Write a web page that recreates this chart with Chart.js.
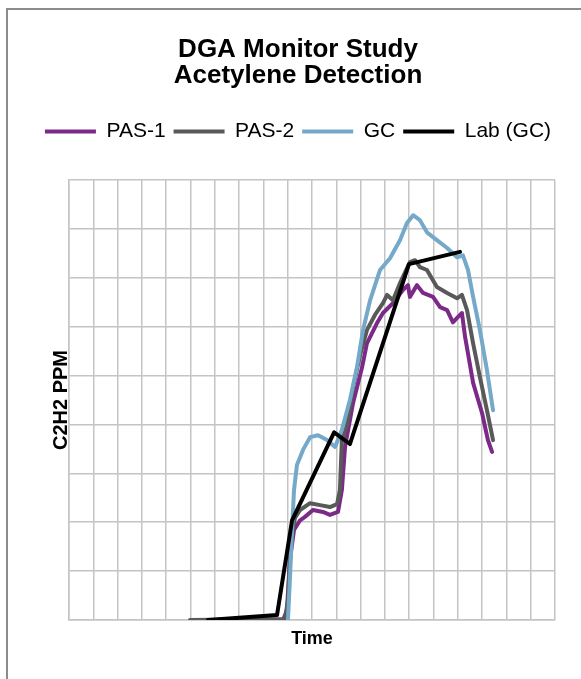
<!DOCTYPE html>
<html>
<head>
<meta charset="utf-8">
<script src="https://cdn.jsdelivr.net/npm/chart.js@4.4.1/dist/chart.umd.min.js"></script>
<style>
  html, body { margin: 0; padding: 0; background: #fff; overflow: hidden; }
  #frame { position: absolute; left: 6px; top: 8px; width: 640px; height: 720px; border: 2px solid #8c8c8c; }
  #chart { position: absolute; left: 0; top: 0; }
</style>
</head>
<body>
<div id="frame"></div>
<canvas id="chart" width="581" height="679"></canvas>
<script>
// time units = one grid column, ppm units = one grid row (axis carries no tick labels)
const seriesNames = ["PAS-1", "PAS-2", "GC", "Lab (GC)"];
const seriesColors = ["#7b2a88", "#595959", "#74a9c9", "#000000"];

const pas1Time = [7.74, 8.81, 8.97, 9.09, 9.26, 9.51, 9.71, 10.04, 10.45, 10.74, 11.07, 11.23, 11.36, 11.69, 12.06, 12.26, 12.67, 12.92, 13.33, 13.74, 13.95, 14.03, 14.32, 14.57, 14.98, 15.27, 15.56, 15.80, 16.01, 16.17, 16.30, 16.63, 17.00, 17.24, 17.41];
const pas1Ppm  = [0, 0, 0.20, 1.23, 1.84, 2.04, 2.11, 2.25, 2.21, 2.15, 2.21, 2.66, 3.54, 4.44, 5.17, 5.66, 6.07, 6.28, 6.48, 6.75, 6.85, 6.61, 6.85, 6.69, 6.61, 6.40, 6.34, 6.09, 6.20, 6.28, 5.79, 4.85, 4.23, 3.68, 3.44];

const pas2Time = [4.98, 8.89, 9.01, 9.14, 9.30, 9.51, 9.92, 10.33, 10.74, 11.03, 11.15, 11.23, 11.44, 11.69, 11.98, 12.26, 12.59, 12.92, 13.09, 13.33, 13.62, 14.03, 14.24, 14.44, 14.73, 15.14, 15.56, 15.97, 16.17, 16.38, 16.63, 16.91, 17.20, 17.45];
const pas2Ppm  = [0, 0.02, 0.41, 1.64, 2.09, 2.25, 2.39, 2.35, 2.31, 2.37, 2.66, 3.68, 3.99, 4.76, 5.42, 5.93, 6.24, 6.48, 6.65, 6.54, 6.89, 7.32, 7.36, 7.22, 7.16, 6.81, 6.69, 6.58, 6.65, 6.34, 5.66, 4.97, 4.29, 3.68];

const gcTime = [9.01, 9.09, 9.18, 9.26, 9.38, 9.63, 9.92, 10.25, 10.62, 10.95, 11.23, 11.56, 11.85, 12.10, 12.39, 12.80, 13.21, 13.62, 13.91, 14.16, 14.44, 14.73, 15.14, 15.56, 15.97, 16.21, 16.42, 16.63, 16.91, 17.20, 17.45];
const gcPpm  = [0, 0.82, 1.84, 2.66, 3.17, 3.48, 3.74, 3.78, 3.68, 3.54, 3.89, 4.50, 5.17, 5.93, 6.54, 7.16, 7.40, 7.77, 8.12, 8.28, 8.18, 7.93, 7.77, 7.61, 7.42, 7.46, 7.16, 6.61, 5.93, 5.11, 4.29];

const labTime = [5.72, 8.56, 9.18, 10.91, 11.56, 13.99, 16.09];
const labPpm  = [0, 0.10, 2.04, 3.84, 3.60, 7.28, 7.53];

const timeMax = 20;
const ppmMax = 9;

function points(xs, ys) {
    return xs.map((x, i) => ({x: x, y: ys[i]}));
}

const allPoints = [
    points(pas1Time, pas1Ppm),
    points(pas2Time, pas2Ppm),
    points(gcTime, gcPpm),
    points(labTime, labPpm)
];
const drawOrder = [3, 2, 1, 0];

const datasets = seriesNames.map((name, i) => ({
    label: name,
    data: allPoints[i],
    borderColor: seriesColors[i],
    backgroundColor: seriesColors[i],
    borderWidth: 4,
    pointRadius: 0,
    showLine: true,
    tension: 0,
    borderJoinStyle: 'round',
    borderCapStyle: 'round',
    order: drawOrder[i]
}));

const gridColor = '#c4c4c4';
const fontFamily = '"Liberation Sans", Arial, sans-serif';

// blank axes, only used to hold space around the plot
const spacer = {
    display: true,
    ticks: { display: false },
    grid: { display: false, drawTicks: false },
    border: { display: false }
};

new Chart(document.getElementById('chart').getContext('2d'), {
    type: 'scatter',
    data: { datasets: datasets },
    options: {
        responsive: false,
        animation: false,
        devicePixelRatio: 1,
        layout: { padding: { left: 25, right: 10, top: 20, bottom: 29 } },
        plugins: {
            title: {
                display: true,
                text: ['DGA Monitor Study', 'Acetylene Detection'],
                color: '#000',
                font: { family: fontFamily, size: 26, weight: 'bold', lineHeight: 1.02 },
                padding: { top: 16.5, bottom: 23.5 }
            },
            legend: {
                display: true,
                labels: {
                    color: '#262626',
                    font: { family: fontFamily, size: 21 },
                    boxWidth: 51,
                    boxHeight: 4,
                    padding: 8,
                    generateLabels: (chart) => chart.data.datasets.map((ds, i) => ({
                        text: ds.label,
                        fillStyle: ds.borderColor,
                        strokeStyle: ds.borderColor,
                        lineWidth: 0,
                        datasetIndex: i
                    }))
                }
            },
            tooltip: { enabled: false }
        },
        scales: {
            x: {
                type: 'linear',
                min: 0,
                max: timeMax,
                ticks: { display: false, stepSize: 1 },
                grid: { color: gridColor, lineWidth: 1.5, drawTicks: false },
                border: { color: gridColor, width: 1.5 },
                title: {
                    display: true,
                    text: 'Time',
                    color: '#000',
                    font: { family: fontFamily, size: 18, weight: 'bold' },
                    padding: { top: 8, bottom: 0 }
                },
                afterFit: (s) => { s.height = 30; }
            },
            x2: Object.assign({ type: 'linear', position: 'top', afterFit: (s) => { s.height = 28; } }, spacer),
            y: {
                min: 0,
                max: ppmMax,
                ticks: { display: false, stepSize: 1 },
                grid: { color: gridColor, lineWidth: 1.5, drawTicks: false },
                border: { color: gridColor, width: 1.5 },
                title: {
                    display: true,
                    text: 'C2H2 PPM',
                    color: '#000',
                    font: { family: fontFamily, size: 20, weight: 'bold' },
                    padding: { top: 24, bottom: 4 }
                },
                afterFit: (s) => { s.width = 44; }
            },
            y2: Object.assign({ type: 'linear', position: 'right', afterFit: (s) => { s.width = 16; } }, spacer)
        }
    }
});
</script>
</body>
</html>
